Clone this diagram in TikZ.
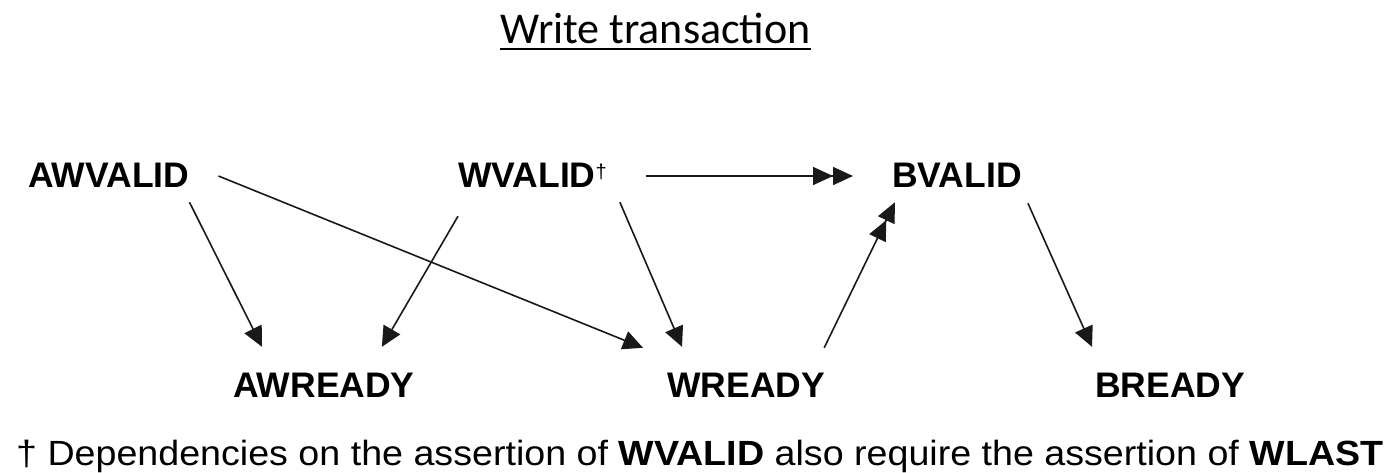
\documentclass[tikz,border=0pt]{standalone}
\usepackage{fontspec}
\usepackage{graphicx}
\setmainfont{Liberation Sans}
\newfontfamily\titlefont{Carlito}
\usetikzlibrary{arrows.meta,calc}

\tikzset{
  signal/.style={font=\fontsize{35.5}{36}\selectfont\bfseries, inner sep=0pt,
    text height=26pt, text depth=8pt, anchor=base west},
  dep/.style={line width=1.6pt, draw=black!90, -{Triangle[length=20pt,width=19pt]}},
  dep2/.style={line width=1.6pt, draw=black!90,
    -{Triangle[length=20pt,width=18pt]Triangle[length=20pt,width=18pt]}},
}

\begin{document}
\begin{tikzpicture}[x=1pt,y=-1pt]
  \useasboundingbox (0,0) rectangle (1390,472);

  % heading
  \node[font=\titlefont\fontsize{44}{44}\selectfont, inner sep=0pt, text depth=6pt,
        anchor=base] (title) at (655.5,43) {Write transaction};
  \draw[line width=2.2pt] (title.south west) -- (title.south east);

  % handshake signals
  \node[signal] (awv) at (28,187)   {AWVALID};
  \node[signal] (wv)  at (458,187)  {WVALID\raisebox{9pt}{\fontsize{20}{20}\selectfont\mdseries †}};
  \node[signal] (bv)  at (892,187)  {BVALID};
  \node[signal] (awr) at (233,397)  {AWREADY};
  \node[signal] (wr)  at (667,397)  {WREADY};
  \node[signal] (br)  at (1095,397) {BREADY};

  % dependencies
  \draw[dep] ($(awv.south east)+(0,7)$)  -- ($(awr.north west)+(29,-24)$);
  \draw[dep] ($(awv.east)+(29,-2)$)      -- ($(wr.north west)+(-24,-23)$);
  \draw[dep] ($(wv.south west)+(0,21)$)  -- ($(awr.north east)+(-33,-24)$);
  \draw[dep] ($(wv.south east)+(13,7)$)  -- ($(wr.north west)+(15,-24)$);
  \draw[dep2] ($(wv.east)+(39,-2)$)      -- ($(bv.west)+(-39,-2)$);
  \draw[dep2] ($(wr.north east)+(-1,-23)$) -- ($(bv.south west)+(3,7)$);
  \draw[dep] ($(bv.south east)+(6,8)$)   -- ($(br.north west)+(-3,-24)$);

  % footnote, widened to the full line
  \node[font=\fontsize{35}{36}\selectfont, inner sep=0pt, anchor=base west] (note) at (16,465)
    {\resizebox{1367pt}{\height}{† Dependencies on the assertion of \textbf{WVALID} also require the assertion of \textbf{WLAST}}};
\end{tikzpicture}
\end{document}
